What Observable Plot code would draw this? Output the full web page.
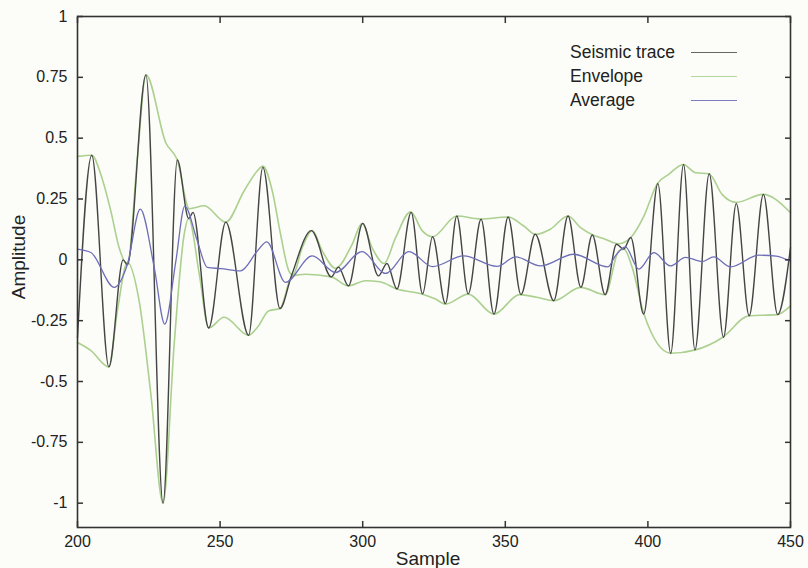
<!DOCTYPE html>
<html>
<head>
<meta charset="utf-8">
<script src="https://cdn.jsdelivr.net/npm/d3@7"></script>
<script src="https://cdn.jsdelivr.net/npm/@observablehq/plot@0.6"></script>
<style>
  html, body { margin: 0; padding: 0; background: #fcfdf8; }
  #wrap { position: relative; width: 808px; height: 568px; font-family: "Liberation Sans", Arial, sans-serif; color: #222; overflow: hidden; }
  #legend { position: absolute; left: 570px; top: 40px; font-size: 17.5px; }
  .row { position: relative; height: 24px; line-height: 24px; white-space: nowrap; }
  .swatch { position: absolute; left: 121px; top: 12px; width: 46px; height: 0; border-top: 1.5px solid; }
  .ylab { position: absolute; left: 19px; top: 257px; transform: translate(-50%, -50%) rotate(-90deg); font-size: 19px; white-space: nowrap; }
  .xlab { position: absolute; left: 428px; top: 559px; transform: translate(-50%, -50%); font-size: 19px; white-space: nowrap; }
</style>
</head>
<body>
<div id="wrap"></div>
<script>
// ---- data ----
const xTicks = [200, 250, 300, 350, 400, 450];
const yTicks = [-1, -0.75, -0.5, -0.25, 0, 0.25, 0.5, 0.75, 1];

// seismic trace: turning points (sample, amplitude)
const traceSample = [200, 205, 211, 216, 217.5, 224, 230, 235, 239, 240.5, 246, 252, 260, 265, 271, 275, 282, 289, 291.5, 295, 300, 305.5, 308.5, 312, 317, 321, 324.5, 329, 333, 337, 341.5, 346, 351, 355.5, 360.5, 367, 372, 376.5, 380.5, 385, 389, 391.5, 394, 398.5, 403.5, 408, 412.5, 416.5, 421.5, 426.5, 431, 435.5, 440.5, 445.5, 450];
const traceAmp = [-0.32, 0.43, -0.44, 0.0, -0.02, 0.76, -1.0, 0.41, 0.17, 0.195, -0.28, 0.155, -0.31, 0.38, -0.2, -0.066, 0.12, -0.07, -0.03, -0.107, 0.15, -0.066, -0.015, -0.12, 0.195, -0.14, 0.095, -0.18, 0.18, -0.14, 0.167, -0.223, 0.176, -0.143, 0.105, -0.168, 0.18, -0.113, 0.102, -0.143, 0.064, 0.044, 0.092, -0.223, 0.313, -0.384, 0.392, -0.37, 0.354, -0.318, 0.231, -0.23, 0.269, -0.225, 0.05];

// upper envelope
const upperSample = [200, 205, 208.2, 211.7, 214.6, 217.5, 221, 224, 231, 235, 239.2, 244.4, 252, 258.4, 263, 265, 268.3, 271.2, 274.1, 275.5, 278.8, 282.3, 285.8, 290.5, 296.3, 299.8, 303.3, 307.5, 311.5, 316.8, 320.9, 324.5, 333, 341.3, 351, 356.5, 360.6, 365.8, 372, 376.4, 380.7, 385, 389.5, 394, 398.6, 403.3, 407.3, 412.4, 416.7, 421.4, 426, 431, 440.3, 450];
const upperAmp = [0.425, 0.43, 0.35, 0.2, 0.05, -0.02, 0.42, 0.76, 0.48, 0.41, 0.21, 0.222, 0.155, 0.283, 0.365, 0.385, 0.283, 0.105, -0.045, -0.062, 0.05, 0.12, 0.037, -0.035, 0.064, 0.15, 0.05, -0.015, 0.09, 0.197, 0.119, 0.095, 0.18, 0.168, 0.176, 0.139, 0.105, 0.126, 0.18, 0.132, 0.102, 0.085, 0.066, 0.092, 0.18, 0.313, 0.351, 0.392, 0.358, 0.354, 0.269, 0.236, 0.269, 0.194];

// lower envelope
const lowerSample = [200, 204.7, 211, 214, 217.5, 221.6, 225.7, 230, 233.9, 237.4, 239, 242.7, 246, 251.4, 260, 263.1, 267.1, 271, 275.3, 280, 289, 295, 301, 306, 312, 321, 325.5, 329, 337, 346, 355, 361, 367, 376.4, 385, 389.8, 391.6, 394.5, 398.6, 408, 416.7, 426.3, 435.4, 445.3, 450];
const lowerAmp = [-0.34, -0.373, -0.44, -0.209, -0.01, -0.168, -0.55, -1.0, -0.346, 0.105, 0.17, -0.059, -0.28, -0.236, -0.31, -0.277, -0.209, -0.2, -0.066, -0.059, -0.07, -0.107, -0.086, -0.09, -0.12, -0.141, -0.161, -0.182, -0.141, -0.223, -0.143, -0.154, -0.168, -0.113, -0.143, 0.037, 0.044, -0.031, -0.223, -0.384, -0.37, -0.318, -0.23, -0.225, -0.189];

// average
const avgSample = [200, 204.7, 212.9, 217.5, 222, 226.9, 230.6, 234.5, 237.6, 242, 245.5, 250.3, 257.2, 263.1, 266.4, 272.9, 282.3, 290.5, 299.8, 308, 316.2, 324.5, 335.4, 347.1, 353.6, 362.3, 374, 386, 388.6, 392.1, 396.8, 402.1, 407.9, 413.2, 419, 423.1, 429, 438.9, 445, 450];
const avgAmp = [0.044, 0.03, -0.113, -0.018, 0.208, -0.031, -0.264, -0.004, 0.221, 0.078, -0.031, -0.036, -0.045, 0.037, 0.074, -0.093, 0.016, -0.052, 0.034, -0.056, 0.034, -0.028, 0.016, -0.027, 0.012, -0.025, 0.023, -0.029, 0.016, 0.053, -0.038, 0.030, -0.025, 0.01, -0.007, 0.012, -0.029, 0.019, 0.015, -0.007];

const seriesNames = ["Seismic trace", "Envelope", "Average"];
const seriesColors = ["#454545", "#abd08f", "#6e6eb8"];
const legendColors = ["#666666", "#b4d89c", "#7c7cbf"];

// ---- build tables ----
const pts = (xs, ys) => xs.map((x, i) => ({x, y: ys[i]}));
const trace = pts(traceSample, traceAmp);
const upper = pts(upperSample, upperAmp);
const lower = pts(lowerSample, lowerAmp);
const avg = pts(avgSample, avgAmp);

const fmt = d => String(d);

const chart = Plot.plot({
  width: 808,
  height: 568,
  marginLeft: 77,
  marginRight: 18,
  marginTop: 16,
  marginBottom: 41,
  style: {background: "transparent", fontFamily: "'Liberation Sans', Arial, sans-serif", fontSize: "16px", color: "#222", overflow: "visible"},
  x: {domain: [200, 450]},
  y: {domain: [-1.1, 1]},
  marks: [
    Plot.line(upper, {x: "x", y: "y", stroke: seriesColors[1], strokeWidth: 1.6, curve: "monotone-x"}),
    Plot.line(lower, {x: "x", y: "y", stroke: seriesColors[1], strokeWidth: 1.6, curve: "monotone-x"}),
    Plot.line(trace, {x: "x", y: "y", stroke: seriesColors[0], strokeWidth: 1.4, curve: "monotone-x"}),
    Plot.line(avg, {x: "x", y: "y", stroke: seriesColors[2], strokeWidth: 1.3, curve: "monotone-x"}),
    Plot.frame({stroke: "#333", strokeWidth: 1.6}),
    // inward ticks (gnuplot style, mirrored)
    Plot.axisY({anchor: "left", ticks: yTicks, tickSize: 6, dx: 6, fill: "none", stroke: "#333", strokeWidth: 1.5, label: null}),
    Plot.axisY({anchor: "right", ticks: yTicks, tickSize: 6, dx: -6, fill: "none", stroke: "#333", strokeWidth: 1.5, label: null}),
    Plot.axisX({anchor: "bottom", ticks: xTicks, tickSize: 6, dy: -6, fill: "none", stroke: "#333", strokeWidth: 1.5, label: null}),
    Plot.axisX({anchor: "top", ticks: xTicks, tickSize: 6, dy: 6, fill: "none", stroke: "#333", strokeWidth: 1.5, label: null}),
    // tick labels
    Plot.axisY({anchor: "left", ticks: yTicks, tickSize: 0, tickPadding: 10, tickFormat: fmt, fontSize: 16, fill: "#222", label: null}),
    Plot.axisX({anchor: "bottom", ticks: xTicks, tickSize: 0, tickPadding: 8, tickFormat: fmt, fontSize: 16, fill: "#222", label: null})
  ]
});

const wrap = document.getElementById("wrap");
wrap.appendChild(chart);

const ylab = document.createElement("div");
ylab.className = "ylab"; ylab.textContent = "Amplitude";
wrap.appendChild(ylab);
const xlab = document.createElement("div");
xlab.className = "xlab"; xlab.textContent = "Sample";
wrap.appendChild(xlab);

const legend = document.createElement("div");
legend.id = "legend";
seriesNames.forEach((name, i) => {
  const row = document.createElement("div");
  row.className = "row";
  row.textContent = name;
  const sw = document.createElement("span");
  sw.className = "swatch";
  sw.style.borderTopColor = legendColors[i];
  row.appendChild(sw);
  legend.appendChild(row);
});
wrap.appendChild(legend);
</script>
</body>
</html>
